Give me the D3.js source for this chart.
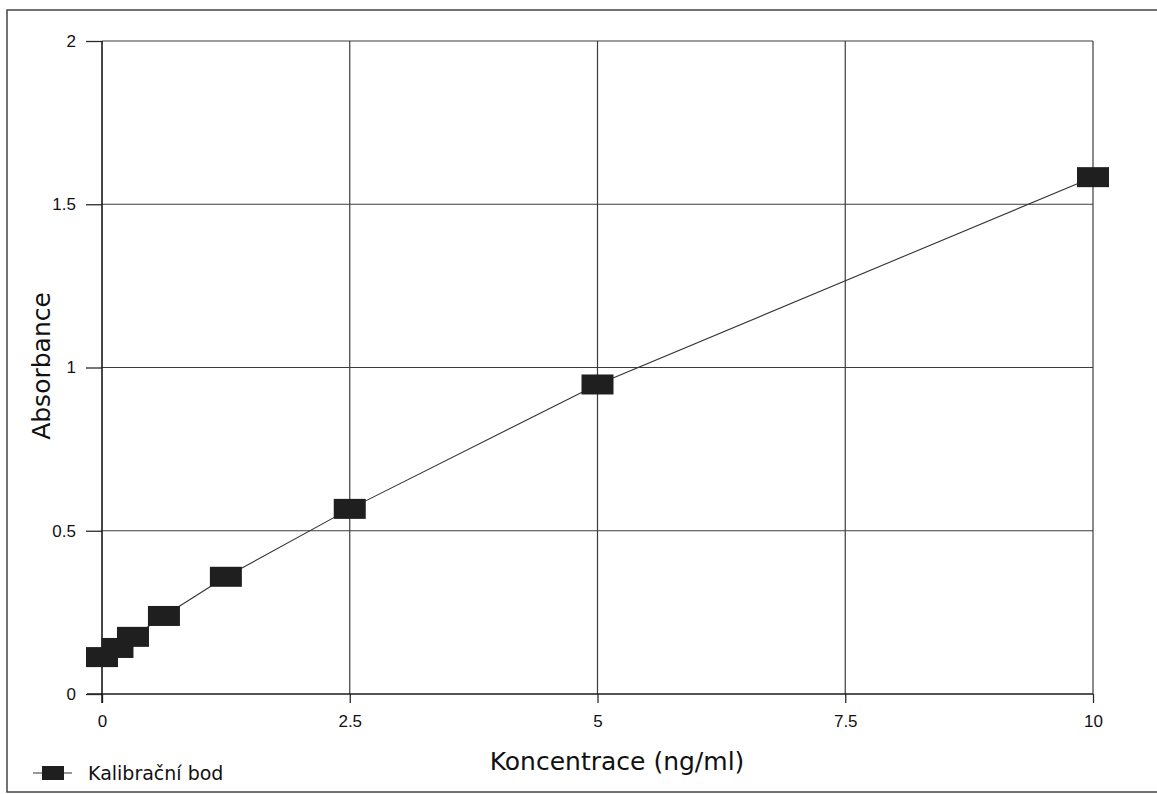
<!DOCTYPE html>
<html>
<head>
<meta charset="utf-8">
<script src="https://cdn.jsdelivr.net/npm/d3@7"></script>
<style>
  body { margin: 0; background: #fff; overflow: hidden; }
</style>
</head>
<body>
<div id="chart"></div>
<script>
// calibration data
const concentrations = [0, 0.156, 0.3125, 0.625, 1.25, 2.5, 5, 10];
const absorbances = [0.113, 0.141, 0.175, 0.239, 0.359, 0.567, 0.948, 1.583];
const xTicks = [0, 2.5, 5, 7.5, 10];
const yTicks = [0, 0.5, 1, 1.5, 2];
const seriesName = 'Kalibrační bod';
const xTitle = 'Koncentrace (ng/ml)';
const yTitle = 'Absorbance';

const svgWidth = 1157;
const svgHeight = 794;

const plot = { left: 102, right: 1093, top: 41, bottom: 694 };

const svg = d3.select('#chart')
.append('svg')
.attr('width', svgWidth)
.attr('height', svgHeight)
.style('display', 'block');

//outer frame (right edge is cut off in the reference)
svg.append('path')
.attr('d', `M${svgWidth + 10},10 L7,10 L7,792 L${svgWidth + 10},792`)
.attr('fill', 'none')
.attr('stroke', '#444')
.attr('stroke-width', 1.5);

const x = d3.scaleLinear().domain([0, 10]).range([plot.left, plot.right]);
const y = d3.scaleLinear().domain([0, 2]).range([plot.bottom, plot.top]);

const fmt = d => String(d);

//grid lines
svg.append('g')
.selectAll('line')
.data(xTicks.filter(d => d > 0))
.enter()
.append('line')
.attr('x1', d => x(d)).attr('x2', d => x(d))
.attr('y1', y(2)).attr('y2', y(0))
.attr('stroke', '#3c3c3c')
.attr('stroke-width', 1.2);

svg.append('g')
.selectAll('line')
.data(yTicks.filter(d => d > 0))
.enter()
.append('line')
.attr('x1', x(0)).attr('x2', x(10))
.attr('y1', d => y(d)).attr('y2', d => y(d))
.attr('stroke', '#3c3c3c')
.attr('stroke-width', 1.2);

//axes
const xAxis = d3.axisBottom(x).tickValues(xTicks).tickFormat(fmt).tickSize(9).tickPadding(12);
const yAxis = d3.axisLeft(y).tickValues(yTicks).tickFormat(fmt).tickSize(16).tickPadding(10);

const gx = svg.append('g')
.attr('transform', `translate(0, ${plot.bottom})`)
.call(xAxis);
gx.select('.domain').remove();
gx.append('line')
.attr('x1', 87).attr('x2', x(10))
.attr('stroke', '#1a1a1a').attr('stroke-width', 1.6);

const gy = svg.append('g')
.attr('transform', `translate(${plot.left}, 0)`)
.call(yAxis);
gy.select('.domain').remove();
gy.append('line')
.attr('y1', y(2)).attr('y2', plot.bottom + 9)
.attr('stroke', '#1a1a1a').attr('stroke-width', 1.6);

svg.selectAll('.tick line').attr('stroke', '#2a2a2a').attr('stroke-width', 1.3);
svg.selectAll('.tick text')
.attr('font-family', '"Liberation Sans", Arial, sans-serif')
.attr('font-size', 17)
.attr('fill', '#111');

//data line
const line = d3.line()
.x((d, i) => x(concentrations[i]))
.y(d => y(d));

svg.append('path')
.datum(absorbances)
.attr('d', line)
.attr('fill', 'none')
.attr('stroke', '#333')
.attr('stroke-width', 1.1);

//square markers
svg.append('g')
.selectAll('rect')
.data(absorbances)
.enter()
.append('rect')
.attr('x', (d, i) => x(concentrations[i]) - 16)
.attr('y', d => y(d) - 10)
.attr('width', 32)
.attr('height', 20)
.attr('fill', '#1f1f1f');

//axis titles
svg.append('text')
.attr('x', 617)
.attr('y', 770)
.attr('text-anchor', 'middle')
.attr('font-family', '"DejaVu Sans", Verdana, sans-serif')
.attr('font-size', 25)
.attr('fill', '#111')
.text(xTitle);

svg.append('text')
.attr('transform', 'translate(50, 366) rotate(-90)')
.attr('text-anchor', 'middle')
.attr('font-family', '"DejaVu Sans", Verdana, sans-serif')
.attr('font-size', 25)
.attr('fill', '#111')
.text(yTitle);

//legend
const legend = svg.append('g').attr('transform', 'translate(33, 773)');
legend.append('line')
.attr('x1', 0).attr('x2', 39)
.attr('stroke', '#333').attr('stroke-width', 1.2);
legend.append('rect')
.attr('x', 9).attr('y', -7)
.attr('width', 22).attr('height', 14)
.attr('fill', '#1f1f1f');
legend.append('text')
.attr('x', 55)
.attr('y', 7)
.attr('font-family', '"DejaVu Sans", Verdana, sans-serif')
.attr('font-size', 19)
.attr('fill', '#111')
.text(seriesName);
</script>
</body>
</html>
